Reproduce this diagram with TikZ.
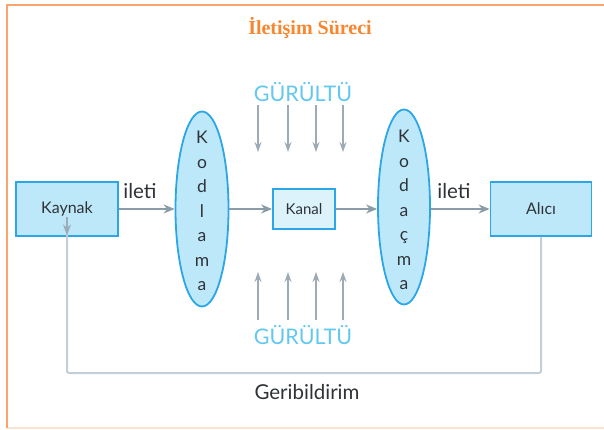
\documentclass[tikz,border=0pt]{standalone}
\usepackage{fontspec}
\setmainfont{Lato}
\newfontfamily\titlefont{Liberation Serif}
\usetikzlibrary{shapes.geometric,arrows.meta}
\definecolor{frameor}{HTML}{F9A46C}
\definecolor{framefaint}{HTML}{FCE2D0}
\definecolor{titleor}{HTML}{F7862E}
\definecolor{boxfill}{HTML}{BDE8F9}
\definecolor{boxline}{HTML}{2BA6E6}
\definecolor{kanalfill}{HTML}{DDF3FC}
\definecolor{arrgray}{HTML}{8B9CA9}
\definecolor{fbgray}{HTML}{C2CED8}
\definecolor{noisecol}{HTML}{62C8F0}
\definecolor{txt}{HTML}{2E3338}
\tikzset{
  blockbox/.style={draw=boxline, line width=1.8pt, fill=boxfill, rectangle, inner sep=0pt, text=txt, font=\fontsize{16}{18}\selectfont},
  ovalbox/.style={draw=boxline, line width=1.8pt, fill=boxfill, ellipse, inner sep=0pt},
  ovaltext/.style={inner sep=0pt, text=txt, align=center, font=\fontsize{17.5}{24.5}\selectfont},
  flowarrow/.style={draw=arrgray, line width=2pt, -{Stealth[length=11pt,width=9pt]}},
  noisearrow/.style={draw=arrgray!85, line width=1.5pt, -{Stealth[length=10pt,width=7pt]}},
  fbline/.style={draw=fbgray, line width=2pt, rounded corners=2pt},
  lbl/.style={text=txt, inner sep=0pt},
  noiselbl/.style={text=noisecol, inner sep=0pt, font=\fontsize{21.5}{23}\selectfont}
}
\begin{document}
\begin{tikzpicture}[x=1pt,y=-1pt]
\useasboundingbox (0,0) rectangle (604,430);
% frame
\draw[framefaint, line width=1.5pt] (7,428) -- (604,428);
\draw[frameor, line width=2.2pt] (7,428) -- (7,5) -- (604,5);
% title
\node[lbl, text=titleor, font=\titlefont\bfseries\fontsize{20}{22}\selectfont] (title) at (310,28) {İletişim Süreci};
% blocks
\node[blockbox, minimum width=102pt, minimum height=54pt] (kaynak) at (67,209) {Kaynak};
\node[ovalbox, minimum width=53pt, minimum height=195pt] (kodlama) at (202,209) {};
\node[ovaltext] (kodlamaText) at (202,211) {K\\o\\d\\l\\a\\m\\a};
\node[blockbox, fill=kanalfill, minimum width=62pt, minimum height=40pt, font=\fontsize{15}{17}\selectfont] (kanal) at (304,209) {Kanal};
\node[ovalbox, minimum width=52pt, minimum height=195pt] (kodacma) at (404,207) {};
\node[ovaltext] (kodacmaText) at (404,210) {K\\o\\d\\a\\ç\\m\\a};
\node[blockbox, minimum width=101pt, minimum height=54pt] (alici) at (541,209) {Alıcı};
% flow arrows
\draw[flowarrow] (kaynak.east) -- (kodlama.west |- kaynak.east);
\draw[flowarrow] (kodlama.east |- kanal.west) -- (kanal.west);
\draw[flowarrow] (kanal.east) -- (kodacma.west |- kanal.east);
\draw[flowarrow] (kodacma.east |- alici.west) -- (alici.west);
\node[lbl, font=\fontsize{20.5}{22}\selectfont] (ileti1) at (140,191) {ileti};
\node[lbl, font=\fontsize{20.5}{22}\selectfont] (ileti2) at (454,191) {ileti};
% noise top
\node[noiselbl] (noiseTop) at (303,92) {GÜRÜLTÜ};
\foreach \i/\x in {1/258,2/288,3/316,4/343}{
  \coordinate (ts\i) at (\x,105);
  \coordinate (te\i) at (\x,152);
  \draw[noisearrow] (ts\i) -- (te\i);
}
% noise bottom
\node[noiselbl] (noiseBot) at (303,335) {GÜRÜLTÜ};
\foreach \i/\x in {1/258,2/288,3/316,4/343}{
  \coordinate (bs\i) at (\x,320);
  \coordinate (be\i) at (\x,272);
  \draw[noisearrow] (bs\i) -- (be\i);
}
% feedback
\coordinate (fbR) at (541,373);
\coordinate (fbL) at (67,373);
\draw[fbline] (alici.south) -- (fbR) -- (fbL) -- ([yshift=10pt]kaynak.south);
\draw[draw=arrgray!85, line width=1.8pt, -{Stealth[length=11pt,width=8pt]}] ([yshift=20pt]kaynak.south) -- ([yshift=1.5pt]kaynak.south);
\node[lbl, font=\fontsize{20.5}{22}\selectfont] (geri) at (307,392) {Geribildirim};
\end{tikzpicture}
\end{document}
